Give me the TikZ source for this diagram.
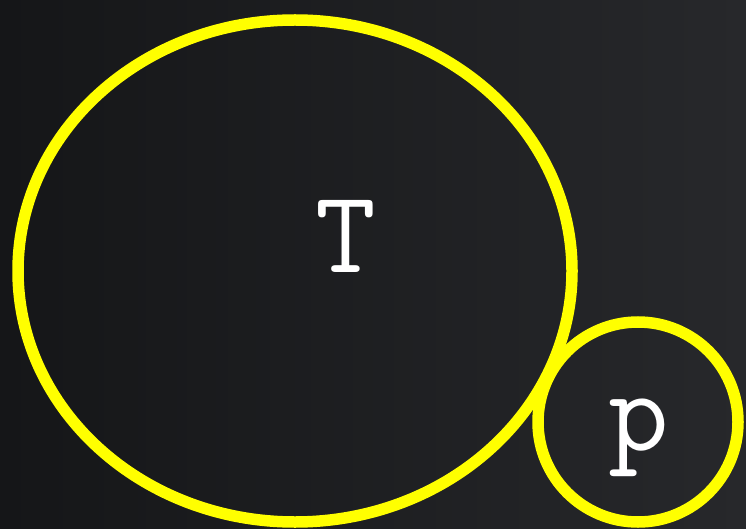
\documentclass[tikz,border=0pt]{standalone}
\usepackage{fontspec}
\definecolor{board}{HTML}{151618}
\definecolor{boardlight}{HTML}{27282B}
\definecolor{marker}{HTML}{FFFF00}
\tikzset{
  ring/.style={draw=marker, line width=11.5pt},
  letter/.style={text=white, inner sep=0pt, font=\ttfamily\fontsize{118}{118}\selectfont}
}
\begin{document}
\begin{tikzpicture}[x=1pt, y=-1pt]
  \useasboundingbox (0,0) rectangle (746,529);
  \shade[left color=board, right color=boardlight] (0,0) rectangle (746,529);
  % the two sets
  \draw[ring] (295,271) ellipse [x radius=277, y radius=251];
  \draw[ring] (638,422) circle [radius=100];
  \node[letter, anchor=base] (tset) at (346,272) {T};
  \node[letter, anchor=base] (pset) at (639,450) {p};
\end{tikzpicture}
\end{document}
